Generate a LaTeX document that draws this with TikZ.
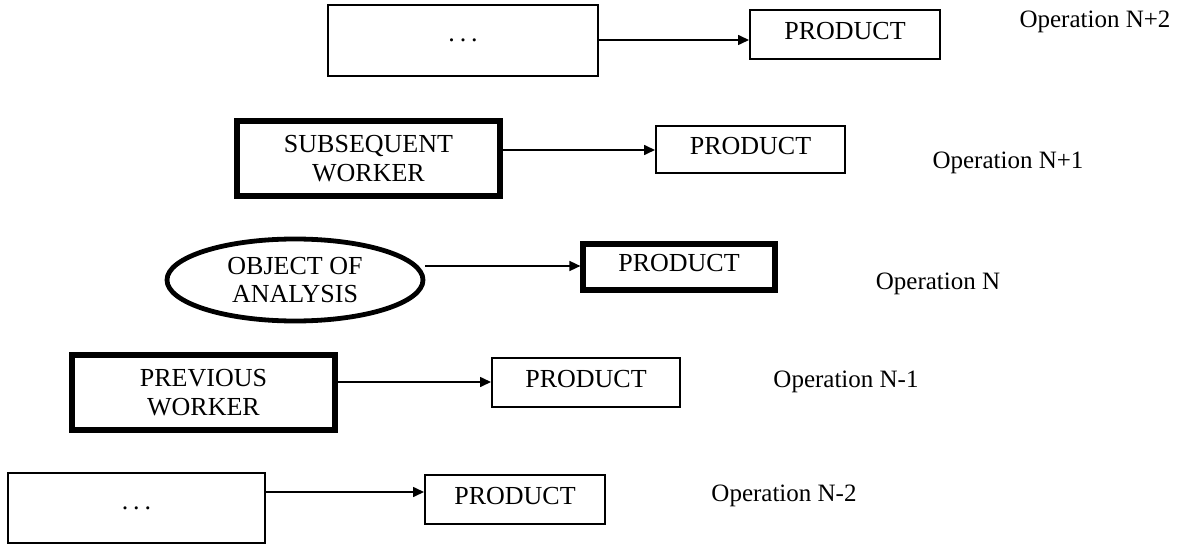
\documentclass[tikz,border=0pt]{standalone}
\usepackage{fontspec}
\setmainfont{Liberation Serif}
\usetikzlibrary{arrows.meta,shapes.geometric}
\newcommand\spacedots{.\hspace{2.5pt}.\hspace{2.5pt}.}
\begin{document}
\begin{tikzpicture}[x=0.5pt,y=-0.5pt,
  txt/.style={font=\fontsize{13}{14.5}\selectfont},
  thinbox/.style={txt, draw, rectangle, line width=1pt, inner sep=0pt, align=center},
  heavybox/.style={thinbox, line width=2.6pt},
  prod/.style={text depth=4pt},
  oval/.style={draw, ellipse, line width=2.4pt, inner sep=0pt, align=center,
    font=\fontsize{13}{14}\selectfont},
  oplabel/.style={font=\fontsize{12.5}{14}\selectfont, anchor=center},
  arr/.style={line width=0.8pt, -{Triangle[length=5.5pt,width=5pt]}}]
  \useasboundingbox (0,0) rectangle (1182,545);

  % row heights of the connectors
  \coordinate (y1) at (0,40);
  \coordinate (y2) at (0,150);
  \coordinate (y3) at (0,266);
  \coordinate (y4) at (0,382);
  \coordinate (y5) at (0,492);

  % Operation N+2
  \node[thinbox, minimum width=135pt, minimum height=35.5pt] (w1) at (463,40.5) {\spacedots};
  \node[thinbox, prod, minimum width=95pt, minimum height=24.5pt] (p1) at (845,34.5) {PRODUCT};
  \node[oplabel] (o1) at (1095,22) {Operation N+2};

  % Operation N+1
  \node[heavybox, minimum width=131.5pt, minimum height=37.5pt] (w2) at (368.5,158.5) {SUBSEQUENT\\WORKER};
  \node[thinbox, prod, minimum width=94.5pt, minimum height=23.5pt] (p2) at (750.5,149.5) {PRODUCT};
  \node[oplabel] (o2) at (1008,163) {Operation N+1};

  % Operation N
  \node[oval, minimum width=128pt, minimum height=41pt] (w3) at (295,280) {OBJECT OF\\ANALYSIS};
  \node[heavybox, prod, minimum width=96pt, minimum height=23pt] (p3) at (679,267) {PRODUCT};
  \node[oplabel] (o3) at (938,284) {Operation N};

  % Operation N-1
  \node[heavybox, minimum width=131.5pt, minimum height=37.5pt] (w4) at (203.5,392.5) {PREVIOUS\\WORKER};
  \node[thinbox, prod, minimum width=94pt, minimum height=24.5pt] (p4) at (586,382.5) {PRODUCT};
  \node[oplabel] (o4) at (846,382) {Operation N-1};

  % Operation N-2
  \node[thinbox, minimum width=128.5pt, minimum height=35pt] (w5) at (136.5,508) {\spacedots};
  \node[thinbox, prod, minimum width=90pt, minimum height=24.5pt] (p5) at (515,499.5) {PRODUCT};
  \node[oplabel] (o5) at (784,496) {Operation N-2};

  % connectors
  \draw[arr] (w1.east |- y1) -- (p1.west |- y1);
  \draw[arr] (w2.east |- y2) -- (p2.west |- y2);
  \draw[arr] (w3.east |- y3) -- (p3.west |- y3);
  \draw[arr] (w4.east |- y4) -- (p4.west |- y4);
  \draw[arr] (w5.east |- y5) -- (p5.west |- y5);
\end{tikzpicture}
\end{document}
